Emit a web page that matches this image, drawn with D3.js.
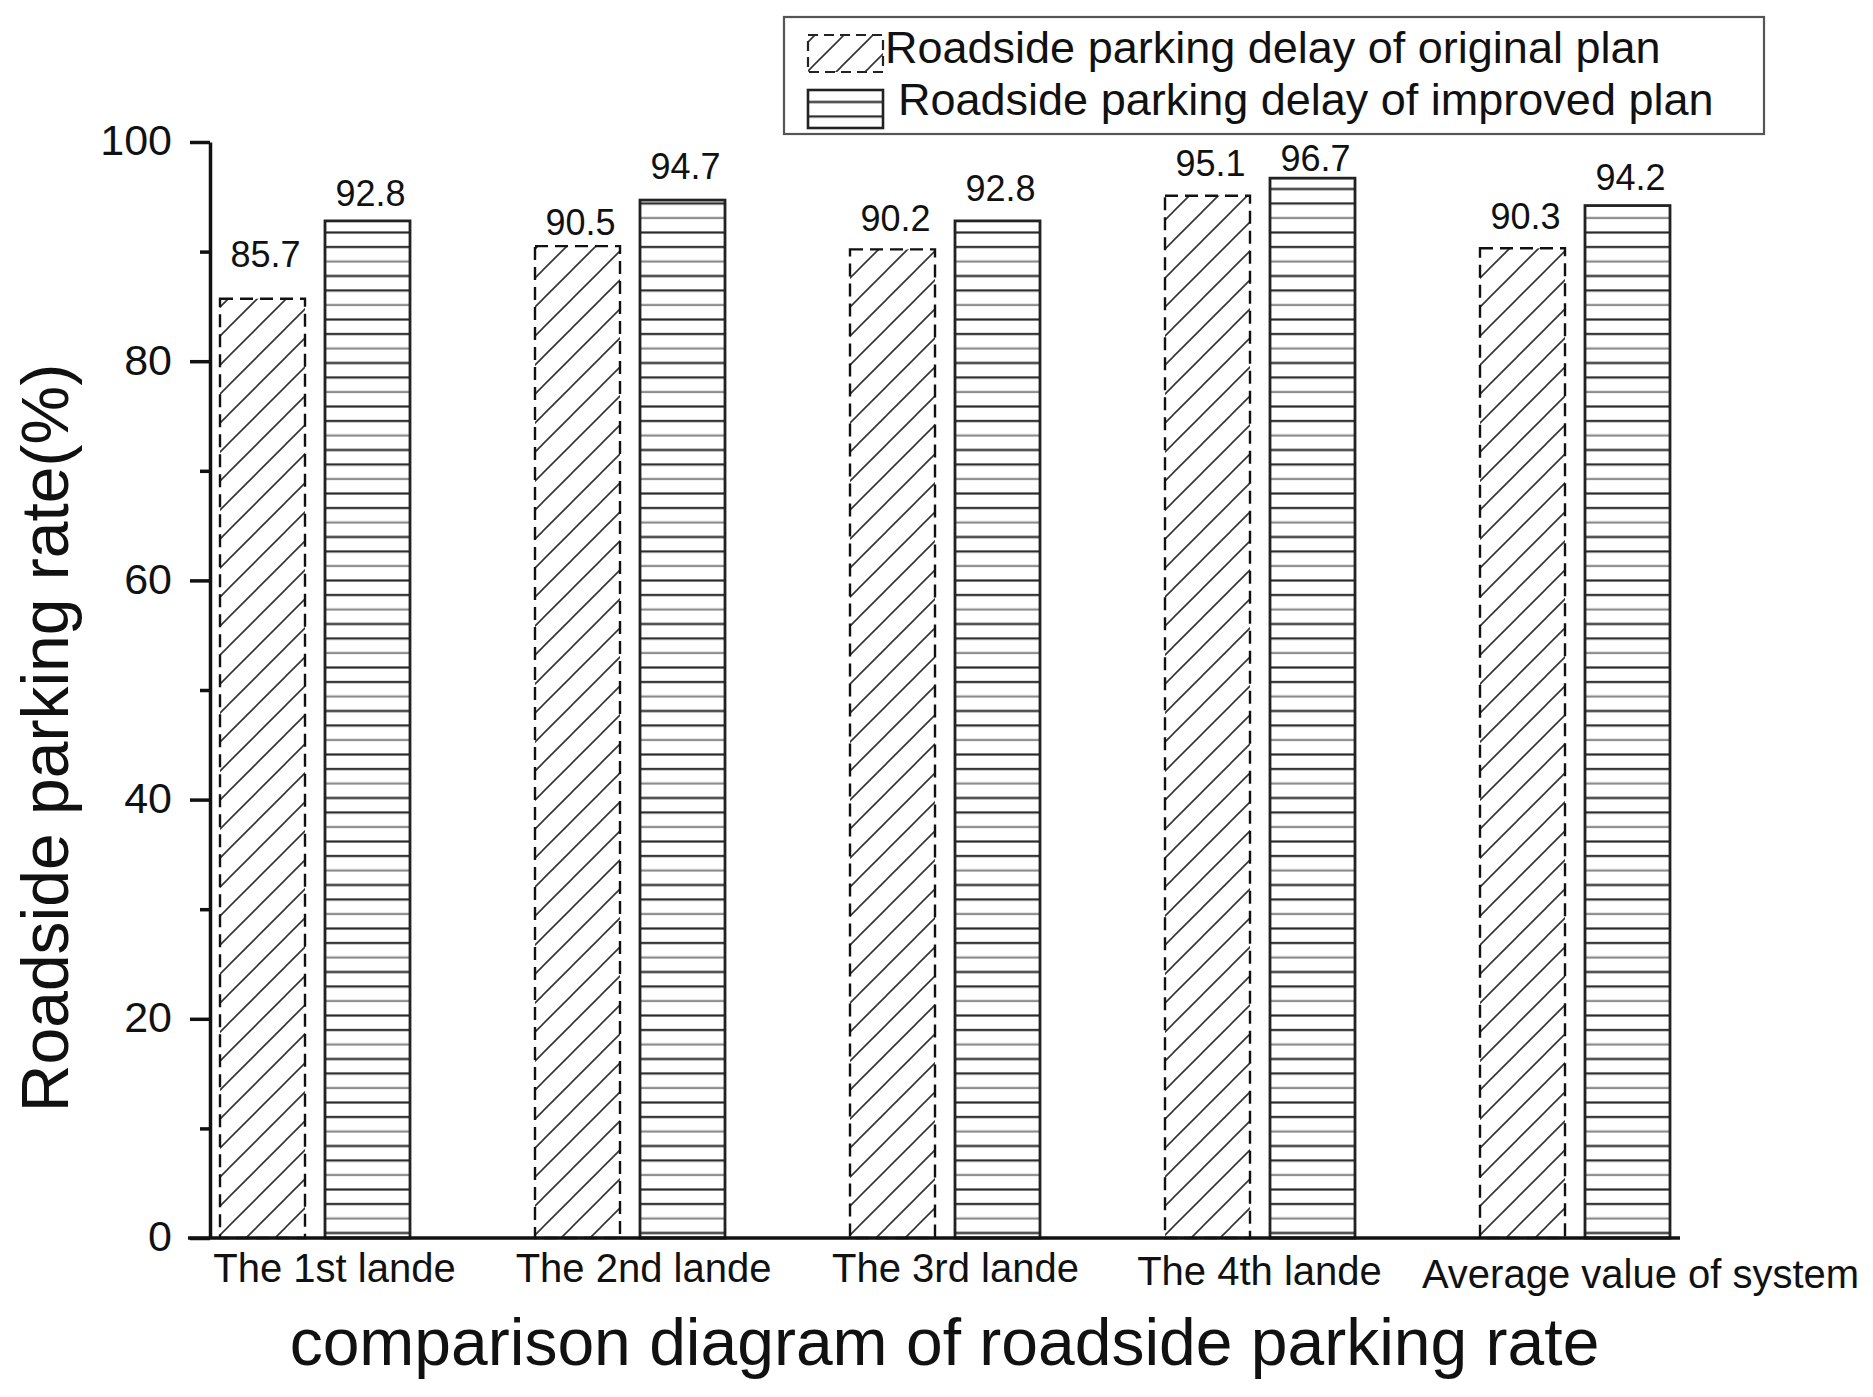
<!DOCTYPE html>
<html>
<head>
<meta charset="utf-8">
<script src="https://cdn.jsdelivr.net/npm/d3@7"></script>
<style>
  html, body { margin: 0; padding: 0; background: #fff; }
  svg { display: block; font-family: "Liberation Sans", Arial, sans-serif; }
</style>
</head>
<body>
<svg id="chart" width="1873" height="1397"></svg>
<script>
// ---- data ----
const categories = ["The 1st lande", "The 2nd lande", "The 3rd lande", "The 4th lande", "Average value of system"];
const seriesNames = ["Roadside parking delay of original plan", "Roadside parking delay of improved plan"];
const originalPlan = [85.7, 90.5, 90.2, 95.1, 90.3];
const improvedPlan = [92.8, 94.7, 92.8, 96.7, 94.2];
const yTickValues = [0, 20, 40, 60, 80, 100];
const yMinorTickValues = [10, 30, 50, 70, 90];
const yTitle = "Roadside parking rate(%)";
const xTitle = "comparison diagram of roadside parking rate";

// ---- layout ----
const W = 1873, H = 1397;
const plot = { left: 210, right: 1680, top: 142, bottom: 1238 };
const svg = d3.select("#chart");

// patterns
const defs = svg.append("defs");
const diag = defs.append("pattern")
  .attr("id", "diagHatch").attr("patternUnits", "userSpaceOnUse")
  .attr("width", 29).attr("height", 29)
  .attr("patternTransform", "translate(0,9)");
diag.append("rect").attr("width", 29).attr("height", 29).attr("fill", "#fff");
diag.append("path")
  .attr("d", "M0,29 L29,0 M-2,2 L2,-2 M27,31 L31,27")
  .attr("stroke", "#333").attr("stroke-width", 1.6);

const horiz = defs.append("pattern")
  .attr("id", "horizHatch").attr("patternUnits", "userSpaceOnUse")
  .attr("width", 20).attr("height", 43.5)
  .attr("patternTransform", "translate(0,1231.5)");
horiz.append("rect").attr("width", 20).attr("height", 43.5).attr("fill", "#fff");
[[1.5, "#2a2a2a"], [16, "#2a2a2a"], [30.5, "#8a8a8a"]].forEach(([yy, c]) => {
  horiz.append("line").attr("x1", 0).attr("x2", 20).attr("y1", yy).attr("y2", yy)
    .attr("stroke", c).attr("stroke-width", 2.2);
});

// scales
const x = d3.scalePoint().domain(categories).range([plot.left, plot.right]).padding(1 / 3);
const xs = d3.scaleBand().domain([0, 1]).range([-95, 95]).paddingInner(20 / 105).paddingOuter(0);
const y = d3.scaleLinear().domain([0, 100]).range([plot.bottom, plot.top]);

const data = categories.map((c, i) => ({ cat: c, vals: [originalPlan[i], improvedPlan[i]] }));

// bars
const groups = svg.append("g").selectAll("g").data(data).join("g")
  .attr("transform", d => `translate(${x(d.cat)},0)`);

groups.selectAll("rect").data(d => d.vals.map((v, s) => ({ v, s }))).join("rect")
  .attr("x", d => xs(d.s))
  .attr("width", xs.bandwidth())
  .attr("y", d => y(d.v))
  .attr("height", d => y(0) - y(d.v))
  .attr("fill", d => d.s === 0 ? "url(#diagHatch)" : "url(#horizHatch)")
  .attr("stroke", d => d.s === 0 ? "#111" : "#222")
  .attr("stroke-width", d => d.s === 0 ? 2.4 : 2.8)
  .attr("stroke-dasharray", d => d.s === 0 ? "13,7" : null);

// value labels (per-label vertical gap tweaks to follow the reference)
const labelGap = [[32, 15], [11, 21], [18, 20], [20, 7], [19, 16]];
groups.each(function (d, gi) {
  d3.select(this).selectAll("text.val").data(d.vals).join("text")
    .attr("class", "val")
    .attr("x", (v, s) => xs(s) + xs.bandwidth() / 2 + 3)
    .attr("y", (v, s) => y(v) - labelGap[gi][s])
    .attr("text-anchor", "middle")
    .attr("font-size", 36)
    .attr("fill", "#111")
    .text(v => d3.format(".1f")(v));
});

// y axis
const yAxis = svg.append("g").attr("transform", `translate(${plot.left},0)`)
  .call(d3.axisLeft(y).tickValues(yTickValues).tickSize(20).tickSizeOuter(0).tickPadding(18).tickFormat(d3.format("d")));
yAxis.select(".domain").attr("stroke", "#111").attr("stroke-width", 3.5);
yAxis.selectAll(".tick line").attr("stroke", "#111").attr("stroke-width", 3.5);
yAxis.selectAll(".tick text").attr("font-size", 43).attr("fill", "#111")
  .attr("font-family", "'Liberation Sans', Arial, sans-serif").attr("dy", "0.3em");

const yMinor = svg.append("g").attr("transform", `translate(${plot.left},0)`)
  .call(d3.axisLeft(y).tickValues(yMinorTickValues).tickSize(10).tickSizeOuter(0).tickFormat(""));
yMinor.select(".domain").remove();
yMinor.selectAll(".tick line").attr("stroke", "#111").attr("stroke-width", 3.5);

// x axis
const xLabelNudge = [[19, 0], [13, 0], [10, 0], [-1, 3], [65, 6]];
const xAxis = svg.append("g").attr("transform", `translate(0,${plot.bottom})`)
  .call(d3.axisBottom(x).tickSize(0).tickSizeOuter(0).tickPadding(16));
xAxis.select(".domain").attr("d", `M${plot.left - 22},0H${plot.right}`)
  .attr("stroke", "#111").attr("stroke-width", 3.5);
xAxis.selectAll(".tick text")
  .attr("font-size", 40).attr("fill", "#111")
  .attr("font-family", "'Liberation Sans', Arial, sans-serif")
  .attr("x", (d, i) => xLabelNudge[i][0])
  .attr("y", (d, i) => 16 + xLabelNudge[i][1]);

// axis titles
svg.append("text")
  .attr("transform", "translate(68,738) rotate(-90)")
  .attr("text-anchor", "middle").attr("font-size", 66).attr("fill", "#111")
  .text(yTitle);
svg.append("text")
  .attr("x", 944.5).attr("y", 1365)
  .attr("text-anchor", "middle").attr("font-size", 66).attr("fill", "#111")
  .text(xTitle);

// legend
const legend = svg.append("g");
legend.append("rect").attr("x", 784).attr("y", 17).attr("width", 980).attr("height", 117)
  .attr("fill", "#fff").attr("stroke", "#555").attr("stroke-width", 2.2);
const legRows = [
  { sym: [808, 35, 75, 37], tx: 885, ty: 63, s: 0 },
  { sym: [808, 90, 75, 38], tx: 898, ty: 115, s: 1 }
];
legRows.forEach(r => {
  legend.append("rect")
    .attr("x", r.sym[0]).attr("y", r.sym[1]).attr("width", r.sym[2]).attr("height", r.sym[3])
    .attr("fill", r.s === 0 ? "url(#diagHatch)" : "url(#horizHatch)")
    .attr("stroke", "#222").attr("stroke-width", r.s === 0 ? 2.2 : 2.6)
    .attr("stroke-dasharray", r.s === 0 ? "10,6" : null);
  legend.append("text").attr("x", r.tx).attr("y", r.ty)
    .attr("font-size", 45).attr("fill", "#111")
    .text(seriesNames[r.s]);
});
</script>
</body>
</html>
